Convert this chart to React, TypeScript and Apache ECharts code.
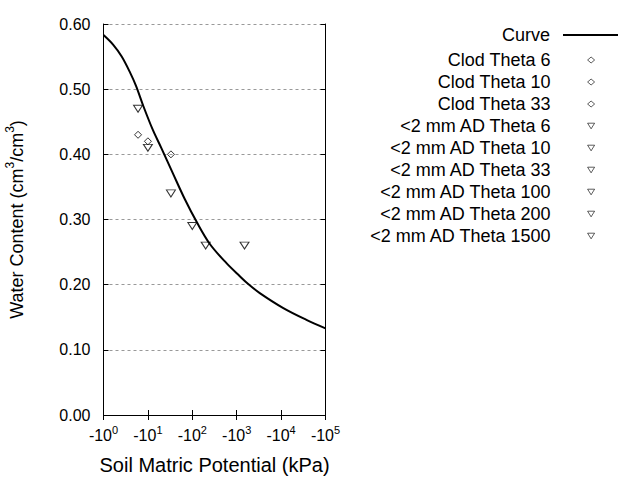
import React, { useEffect, useRef } from "react";
import * as echarts from "echarts";

// Fitted retention curve (kPa magnitude, water content)
const curveKpa = [1, 1.66, 2.57, 4, 5.4, 8, 13, 20, 37, 68, 126, 251, 589, 1175, 1820, 3311, 11220, 37150, 100000];
const curveTheta = [0.583, 0.568, 0.55, 0.525, 0.505, 0.473, 0.437, 0.41, 0.37, 0.331, 0.296, 0.262, 0.233, 0.213, 0.201, 0.187, 0.164, 0.146, 0.133];

// Measured points
const pointNames = [
  "Clod Theta 6",
  "Clod Theta 10",
  "Clod Theta 33",
  "<2 mm AD Theta 6",
  "<2 mm AD Theta 10",
  "<2 mm AD Theta 33",
  "<2 mm AD Theta 100",
  "<2 mm AD Theta 200",
  "<2 mm AD Theta 1500",
];
const pointKpa = [6, 10, 33, 6, 10, 33, 100, 200, 1500];
const pointTheta = [0.43, 0.42, 0.4, 0.47, 0.41, 0.34, 0.29, 0.26, 0.26];
const pointSymbols = ["diamond", "diamond", "diamond", "triangle", "triangle", "triangle", "triangle", "triangle", "triangle"];

const FONT = "'Liberation Sans', Arial, sans-serif";
const DOWN_TRI = "path://M0,0L10,0L5,8Z";

export default function App() {
  const ref = useRef<HTMLDivElement>(null);
  useEffect(() => {
    if (!ref.current) return;
    const chart = echarts.init(ref.current, null, { renderer: "svg" });
    const curveData = curveKpa.map((k, i) => [k, curveTheta[i]]);
    const scatterSeries = pointNames.map((name, i) => {
      const tri = pointSymbols[i] === "triangle";
      return {
        name,
        type: "scatter",
        symbol: tri ? DOWN_TRI : "diamond",
        symbolSize: tri ? [9, 7] : [7, 7],
        itemStyle: { color: "rgba(255,255,255,0)", borderColor: "#000", borderWidth: 1 },
        data: [[pointKpa[i], pointTheta[i]]],
        z: 3,
      };
    });
    const tickRich = {
      b: { fontSize: 16, fontFamily: FONT, color: "#000", lineHeight: 19, verticalAlign: "bottom" },
      s: { fontSize: 11, fontFamily: FONT, color: "#000", verticalAlign: "top", lineHeight: 12 },
    };
    const legendText = { fontSize: 18, color: "#000", fontFamily: FONT, lineHeight: 22 };
    chart.setOption({
      animation: false,
      backgroundColor: "#fff",
      textStyle: { fontFamily: FONT },
      grid: { left: 103.5, right: 314.5, top: 24, bottom: 64, containLabel: false },
      legend: [
        {
          orient: "vertical",
          align: "right",
          right: 22,
          top: 24,
          padding: 0,
          itemGap: 0,
          itemWidth: 55,
          itemHeight: 2,
          icon: "rect",
          itemStyle: { color: "#000", borderWidth: 0 },
          textStyle: { ...legendText, padding: [0, 8, 0, 0] },
          data: ["Curve"],
        },
        {
          orient: "vertical",
          align: "right",
          right: 45,
          top: 49,
          padding: 0,
          itemGap: 0,
          itemWidth: 7,
          itemHeight: 6,
          itemStyle: { color: "rgba(255,255,255,0)", borderColor: "#000", borderWidth: 0.8 },
          textStyle: { ...legendText, padding: [0, 32, 0, 0] },
          data: pointNames.map((n, i) => ({ name: n, icon: pointSymbols[i] === "triangle" ? DOWN_TRI : "diamond" })),
        },
      ],
      xAxis: [
        {
          type: "log",
          logBase: 10,
          min: 1,
          max: 100000,
          name: "Soil Matric Potential (kPa)",
          nameLocation: "middle",
          nameGap: 40,
          nameTextStyle: { fontSize: 20, color: "#000", fontFamily: FONT },
          axisLine: { lineStyle: { color: "#000", width: 1 } },
          axisTick: { inside: true, length: 5, lineStyle: { color: "#000" } },
          minorTick: { show: false },
          splitLine: { show: false },
          axisLabel: {
            margin: 9,
            formatter: (v: number) => `{b|-10}{s|${Math.round(Math.log10(v))}}`,
            rich: tickRich,
          },
        },
        {
          type: "log",
          logBase: 10,
          min: 1,
          max: 100000,
          position: "top",
          axisLine: { lineStyle: { color: "#000", width: 1 } },
          axisTick: { inside: true, length: 5, lineStyle: { color: "#000" } },
          axisLabel: { show: false },
          splitLine: { show: false },
        },
      ],
      yAxis: [
        {
          type: "value",
          min: 0,
          max: 0.6,
          interval: 0.1,
          name: "{a|Water Content (cm}{s|3}{a|/cm}{s|3}{a|)}",
          nameLocation: "middle",
          nameGap: 78,
          nameTextStyle: {
            rich: {
              a: { fontSize: 18, fontFamily: FONT, color: "#000", lineHeight: 22, verticalAlign: "bottom" },
              s: { fontSize: 12, fontFamily: FONT, color: "#000", lineHeight: 13, verticalAlign: "top" },
            },
          },
          axisLine: { show: true, lineStyle: { color: "#000", width: 1 } },
          axisTick: { show: true, inside: true, length: 5, lineStyle: { color: "#000" } },
          axisLabel: {
            margin: 13,
            fontSize: 16,
            color: "#000",
            fontFamily: FONT,
            formatter: (v: number) => v.toFixed(2),
          },
          splitLine: { show: true, lineStyle: { color: "#999", width: 1, type: [3, 3] } },
        },
        {
          type: "value",
          min: 0,
          max: 0.6,
          interval: 0.1,
          position: "right",
          axisLine: { show: true, lineStyle: { color: "#000", width: 1 } },
          axisTick: { show: true, inside: true, length: 5, lineStyle: { color: "#000" } },
          axisLabel: { show: false },
          splitLine: { show: false },
        },
      ],
      series: [
        {
          name: "Curve",
          type: "line",
          symbol: "none",
          smooth: 0.35,
          lineStyle: { color: "#000", width: 2 },
          itemStyle: { color: "#000" },
          data: curveData,
          z: 2,
        },
        ...scatterSeries,
      ],
    });
    return () => chart.dispose();
  }, []);
  return <div ref={ref} style={{ width: 640, height: 480, position: "absolute", left: 0, top: 0 }} />;
}
